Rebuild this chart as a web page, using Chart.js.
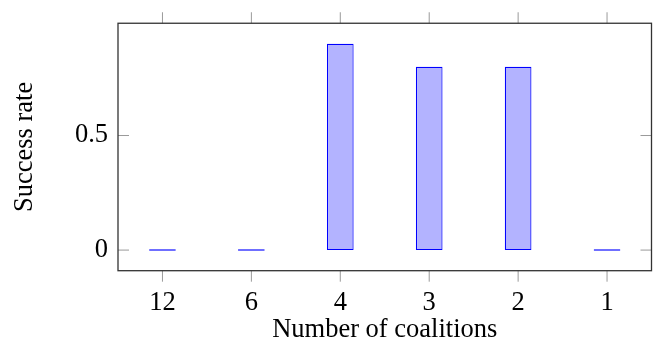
<!DOCTYPE html>
<html>
<head>
<meta charset="utf-8">
<script src="https://cdn.jsdelivr.net/npm/chart.js@4/dist/chart.umd.min.js"></script>
<style>
  html, body { margin: 0; padding: 0; background: #fff; }
  #wrap { width: 657px; height: 341px; }
</style>
</head>
<body>
<div id="wrap"><canvas id="c" width="657" height="341"></canvas></div>
<script>
const coalitions = ['12', '6', '4', '3', '2', '1'];
const successRate = [0, 0, 0.9, 0.8, 0.8, 0];
const yTicks = [0, 0.5];
const yMin = -0.09;
const yMax = 0.99;

const family = '"Liberation Serif", "Times New Roman", serif';
const font = { family: family, size: 26.5, lineHeight: 1 };
const xTitleFont = { family: family, size: 26.5, lineHeight: 0.85 };

// pgfplots-like frame with ticks on all four sides
const framePlugin = {
  id: 'frame',
  afterDraw(chart) {
    const { ctx, chartArea: a, scales: { x, y } } = chart;
    const len = 11;
    ctx.save();
    ctx.strokeStyle = '#9a9a9a';
    ctx.lineWidth = 1;
    ctx.beginPath();
    x.ticks.forEach((t, i) => {
      const px = x.getPixelForTick(i);
      ctx.moveTo(px, a.top - len); ctx.lineTo(px, a.top);
      ctx.moveTo(px, a.bottom); ctx.lineTo(px, a.bottom + len);
    });
    y.ticks.forEach((t) => {
      const py = y.getPixelForValue(t.value);
      ctx.moveTo(a.left, py); ctx.lineTo(a.left + len, py);
      ctx.moveTo(a.right - len, py); ctx.lineTo(a.right, py);
    });
    ctx.stroke();
    ctx.strokeStyle = '#333';
    ctx.lineWidth = 1.3;
    ctx.strokeRect(a.left, a.top, a.right - a.left, a.bottom - a.top);
    ctx.restore();
  }
};

new Chart(document.getElementById('c'), {
  type: 'bar',
  data: {
    labels: coalitions,
    datasets: [{
      label: 'Success rate',
      data: successRate,
      backgroundColor: 'rgb(179,179,255)',
      borderColor: '#0000ff',
      borderWidth: 1.2,
      borderSkipped: false,
      minBarLength: 1.5,
      barPercentage: 0.3,
      categoryPercentage: 1
    }]
  },
  options: {
    responsive: false,
    animation: false,
    layout: { padding: { top: 12, right: 5.5, left: 0, bottom: 0 } },
    plugins: { legend: { display: false }, tooltip: { enabled: false } },
    scales: {
      x: {
        offset: true,
        grid: { display: false, drawTicks: false },
        border: { display: false },
        ticks: { color: '#000', font: font, padding: 19, maxRotation: 0 },
        title: { display: true, text: 'Number of coalitions', color: '#000', font: xTitleFont, padding: 0 },
        afterFit(s) { s.height = 70.3; }
      },
      y: {
        min: yMin,
        max: yMax,
        grid: { display: false, drawTicks: false },
        border: { display: false },
        afterBuildTicks(s) { s.ticks = yTicks.map((v) => ({ value: v })); },
        ticks: { color: '#000', font: font, padding: 10, callback: (v) => String(v) },
        title: { display: true, text: 'Success rate', color: '#000', font: font, padding: { top: 12, bottom: 0 } },
        afterFit(s) { s.width = 118; }
      }
    }
  },
  plugins: [framePlugin]
});
</script>
</body>
</html>
